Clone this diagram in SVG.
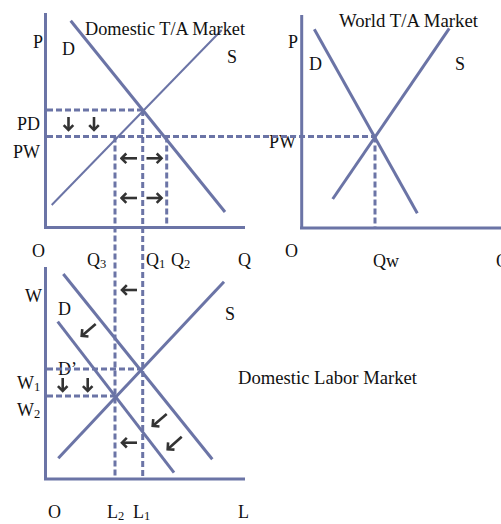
<svg xmlns="http://www.w3.org/2000/svg" width="501" height="524" viewBox="0 0 501 524">
<defs>
<marker id="ah" viewBox="-7 -7 9 14" refX="0" refY="0" markerUnits="userSpaceOnUse" markerWidth="9" markerHeight="14" orient="auto">
<path d="M-4.8,-4.8 L0,0 L-4.8,4.8" fill="none" stroke="#333" stroke-width="2.6"/>
</marker>
</defs>
<style>
.ax{stroke:#6b74a6;stroke-width:3;fill:none}
.thick{stroke:#6b74a6;stroke-width:3;fill:none}
.thin{stroke:#6b74a6;stroke-width:2;fill:none}
.dash{stroke:#6b74a6;stroke-width:3;fill:none;stroke-dasharray:6 3}
.arr{stroke:#333;stroke-width:2.6;fill:none;marker-end:url(#ah)}
text{font-family:"Liberation Serif","Times New Roman",serif;font-size:18px;fill:#111}
.sub{font-size:12.5px}
</style>
<rect width="501" height="524" fill="#fff"/>
<g id="domestic-ta-market">
<line class="ax" x1="45.5" y1="13" x2="45.5" y2="228"/>
<line class="ax" x1="44" y1="227.5" x2="245" y2="227.5"/>
<line class="thick" x1="70.7" y1="20.7" x2="225" y2="212"/>
<line class="thin" x1="51.7" y1="205" x2="221.7" y2="30"/>
<text x="85" y="35" textLength="160" lengthAdjust="spacingAndGlyphs">Domestic T/A Market</text>
<text x="33" y="48">P</text>
<text x="62" y="55">D</text>
<text x="227" y="63">S</text>
<text x="17" y="130">PD</text>
<text x="13" y="158">PW</text>
<text x="32" y="257">O</text>
<text x="87" y="266">Q<tspan class="sub" dy="2">3</tspan></text>
<text x="146" y="266">Q<tspan class="sub" dy="2">1</tspan></text>
<text x="171" y="266">Q<tspan class="sub" dy="2">2</tspan></text>
<text x="238" y="266">Q</text>
</g>
<g id="world-ta-market">
<line class="ax" x1="301.7" y1="15" x2="301.7" y2="229"/>
<line class="ax" x1="300" y1="228" x2="501" y2="228"/>
<line class="thick" x1="314.3" y1="29.3" x2="417.3" y2="213.3"/>
<line class="thick" x1="332.7" y1="199" x2="449.3" y2="28.3"/>
<text x="339" y="27" textLength="139" lengthAdjust="spacingAndGlyphs">World T/A Market</text>
<text x="288" y="48">P</text>
<text x="309" y="70">D</text>
<text x="455" y="70">S</text>
<text x="269" y="148">PW</text>
<text x="285" y="257">O</text>
<text x="373" y="267">Qw</text>
<text x="496" y="267">Q</text>
</g>
<g id="domestic-labor-market">
<line class="ax" x1="45.5" y1="267" x2="45.5" y2="480"/>
<line class="ax" x1="44" y1="479" x2="245" y2="479"/>
<line class="thick" x1="63.3" y1="274" x2="212.3" y2="459.3"/>
<line class="thick" x1="57.7" y1="321.7" x2="174" y2="472.7"/>
<line class="thick" x1="58.3" y1="458.3" x2="224" y2="281.7"/>
<text x="238" y="384" textLength="179" lengthAdjust="spacingAndGlyphs">Domestic Labor Market</text>
<text x="25" y="302">W</text>
<text x="58" y="315">D</text>
<text x="225" y="320">S</text>
<text x="58" y="375">D’</text>
<text x="17" y="389">W<tspan class="sub" dy="2">1</tspan></text>
<text x="17" y="416">W<tspan class="sub" dy="2">2</tspan></text>
<text x="48" y="518">O</text>
<text x="107" y="518">L<tspan class="sub" dy="1.5">2</tspan></text>
<text x="133" y="518">L<tspan class="sub" dy="1.5">1</tspan></text>
<text x="238" y="518">L</text>
</g>
<g id="connectors">
<line class="dash" x1="47" y1="110" x2="143" y2="110"/>
<line class="dash" x1="47" y1="136.5" x2="375" y2="136.5"/>
<line class="dash" x1="375" y1="136.5" x2="375" y2="227"/>
<line class="dash" x1="115" y1="136.5" x2="115" y2="478"/>
<line class="dash" x1="142.7" y1="110" x2="142.7" y2="478"/>
<line class="dash" x1="166.7" y1="136.5" x2="166.7" y2="226"/>
<line class="dash" x1="47" y1="369" x2="142" y2="369"/>
<line class="dash" x1="47" y1="396" x2="115" y2="396"/>
<line class="arr" x1="68.5" y1="117" x2="68.5" y2="130"/>
<line class="arr" x1="94" y1="117" x2="94" y2="130"/>
<line class="arr" x1="137" y1="158.3" x2="121.5" y2="158.3"/>
<line class="arr" x1="146.5" y1="158.3" x2="161.5" y2="158.3"/>
<line class="arr" x1="137" y1="198" x2="121.5" y2="198"/>
<line class="arr" x1="146.5" y1="198" x2="161.5" y2="198"/>
<line class="arr" x1="137" y1="290" x2="122" y2="290"/>
<line class="arr" x1="137" y1="442.7" x2="122" y2="442.7"/>
<line class="arr" x1="95.7" y1="324" x2="81.7" y2="335.9"/>
<line class="arr" x1="166.7" y1="414" x2="152.7" y2="425.9"/>
<line class="arr" x1="181.7" y1="436.7" x2="167.7" y2="449.2"/>
<line class="arr" x1="62.7" y1="378" x2="62.7" y2="391"/>
<line class="arr" x1="87.7" y1="378" x2="87.7" y2="391"/>
</g>
</svg>
